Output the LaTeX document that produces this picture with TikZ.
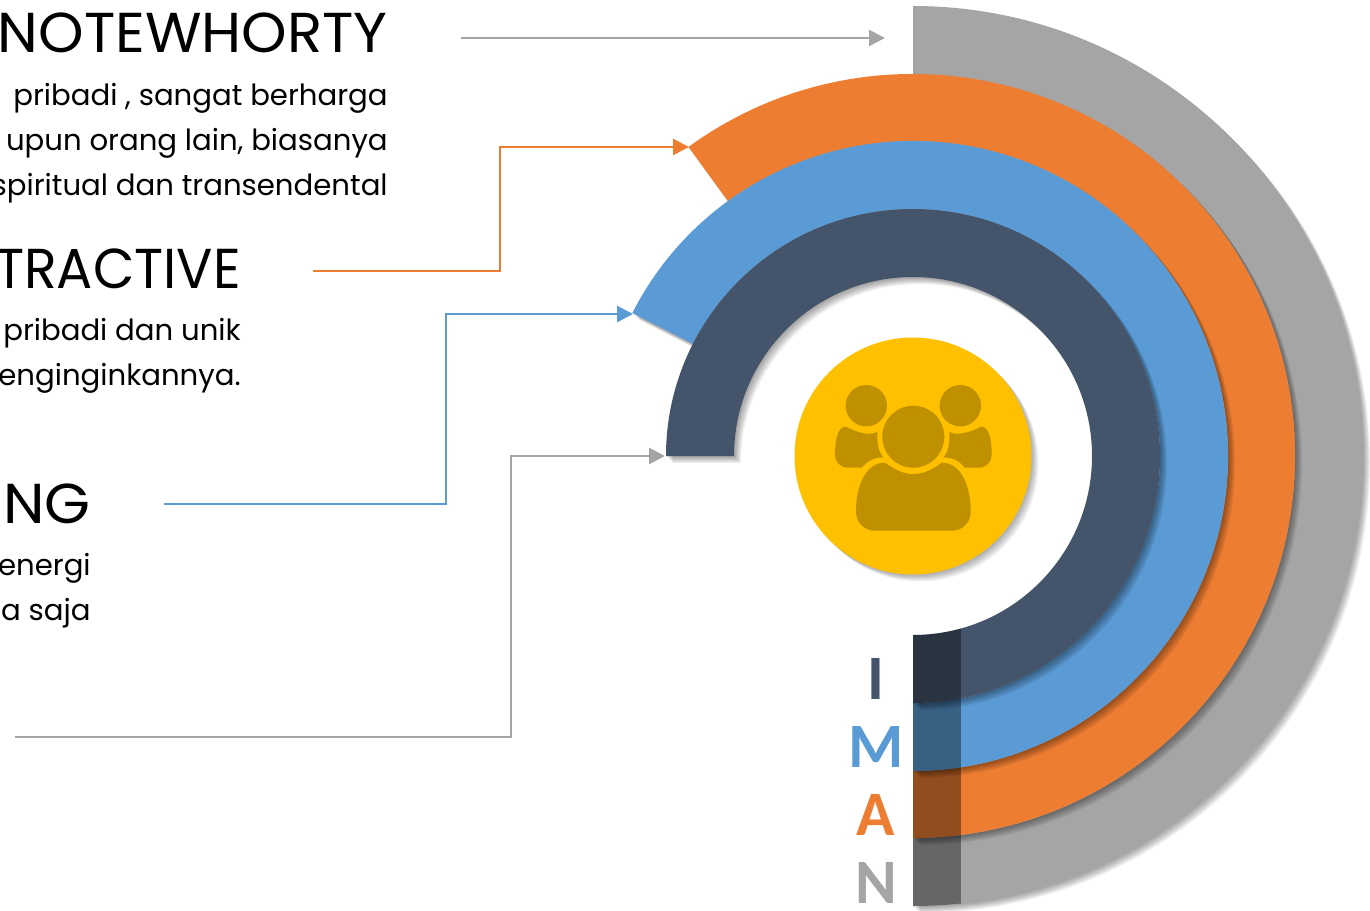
\documentclass[tikz,border=0pt]{standalone}
\usepackage{fontspec}
\usetikzlibrary{arrows.meta}
\newfontfamily\gothicfont{Poppins}
\setsansfont{Carlito}
\definecolor{ringgray}{HTML}{A5A5A5}
\definecolor{ringorange}{HTML}{ED7D31}
\definecolor{ringblue}{HTML}{5B9BD5}
\definecolor{ringdark}{HTML}{44546A}
\definecolor{hubyellow}{HTML}{FFC000}
\definecolor{hubicon}{HTML}{BF9000}
% soft shadow and ring: colour, outer radius, inner radius, start angle, end angle
\newcommand{\drawring}[5]{%
  \foreach \off in {0.02,0.04,...,0.14} {%
    \fill [black,opacity=0.06,shift={(\off,-\off)}] (#4:#2) arc [start angle=#4,end angle=#5,radius=#2] -- (#5:#3) arc [start angle=#5,end angle=#4,radius=#3] -- cycle;%
  }%
  \fill [#1] (#4:#2) arc [start angle=#4,end angle=#5,radius=#2] -- (#5:#3) arc [start angle=#5,end angle=#4,radius=#3] -- cycle;%
}
\tikzset{
  heading/.style={anchor=base east,inner sep=0pt,transform shape,font=\gothicfont\fontsize{32}{32}\selectfont},
  bodytext/.style={anchor=north east,inner sep=0pt,align=right,font=\gothicfont\fontsize{16.6}{25.6}\selectfont},
  ringletter/.style={anchor=base,inner sep=0pt,font=\sffamily\bfseries\fontsize{36}{36}\selectfont},
  leader/.style={line width=0.056cm,-{Triangle[length=0.32cm,width=0.32cm]}}
}
\begin{document}
\begin{tikzpicture}
\useasboundingbox (0,0) rectangle (27.4,18.2);

% Marking point hub
\coordinate (hub) at (18.26,9.08);

% Drawing rings
\begin{scope}[shift={(hub)}]
\drawring{ringgray}{9.00}{7.64}{90}{-90}
\drawring{ringorange}{7.64}{6.30}{126}{-90}
\drawring{ringblue}{6.30}{4.94}{153}{-90}
\drawring{ringdark}{4.94}{3.58}{180}{-90}

% Drawing dark strip
\begin{scope}
\clip (-90:9.00) arc [start angle=-90,end angle=0,radius=9.00] -- (0:3.58) arc [start angle=0,end angle=-90,radius=3.58] -- cycle;
\fill [black,opacity=0.38] (0,-9.1) rectangle (0.96,-3);
\end{scope}

% Drawing yellow circle
\foreach \off in {0.02,0.04,...,0.14} {
  \fill [black,opacity=0.05,shift={(\off,-\off)}] (0,0) circle (2.37);
}
\fill [hubyellow] (0,0) circle (2.37);
\end{scope}

% Drawing heads
\fill [hubicon] (18.266,9.466) circle (0.62);
\fill [hubicon] (17.326,10.086) circle (0.414);
\fill [hubicon] (19.206,10.086) circle (0.414);

% Drawing bodies
\begin{scope}[shift={(15.6,11.8)},x=0.006667cm,y=-0.006667cm]
\fill [hubicon] (197,320) .. controls (225,335) and (270,350) .. (292,335) .. controls (290,370) and (295,395) .. (310,412) .. controls (280,412) and (260,425) .. (245,443) -- (205,443) .. controls (180,443) and (165,425) .. (165,405) .. controls (165,370) and (170,320) .. (197,320) -- cycle;
\fill [hubicon] (603,320) .. controls (575,335) and (530,350) .. (508,335) .. controls (510,370) and (505,395) .. (490,412) .. controls (520,412) and (540,425) .. (555,443) -- (595,443) .. controls (620,443) and (635,425) .. (635,405) .. controls (635,370) and (630,320) .. (603,320) -- cycle;
\fill [hubicon] (315,428) .. controls (345,450) and (370,462) .. (400,462) .. controls (430,462) and (455,450) .. (485,428) .. controls (545,428) and (572,500) .. (572,575) .. controls (572,610) and (545,632) .. (515,632) -- (285,632) .. controls (255,632) and (228,610) .. (228,575) .. controls (228,500) and (255,428) .. (315,428) -- cycle;
\end{scope}

% Marking letters
\node (letterI) [ringletter,text=ringdark] at (17.52,4.22) {I};
\node (letterM) [ringletter,text=ringblue] at (17.53,2.86) {M};
\node (letterA) [ringletter,text=ringorange] at (17.52,1.50) {A};
\node (letterN) [ringletter,text=ringgray] at (17.52,0.14) {N};

% Marking headings
\node (noteworthy) [heading,xscale=1.03] at (7.76,17.14) {NOTEWHORTY};
\node (attractive) [heading,xscale=0.955] at (4.82,12.44) {TRACTIVE};
\node (inspiring) [heading,xscale=1.05] at (1.82,7.74) {NG};

% Marking body texts
\node (noteworthytext) [bodytext] at (7.76,16.54) {pribadi , sangat berharga\\upun orang lain, biasanya\\spiritual dan transendental};
\node (attractivetext) [bodytext] at (4.82,11.84) {pribadi dan unik\\enginginkannya.};
\node (inspiringtext) [bodytext] at (1.82,7.14) {energi\\a saja};

% Marking leader points
\coordinate (grayA) at (9.22,17.44);
\coordinate (grayB) at (17.70,17.44);
\coordinate (orangeA) at (6.26,12.78);
\coordinate (orangeB) at (10.00,15.26);
\coordinate (orangeC) at (13.78,15.26);
\coordinate (blueA) at (3.28,8.12);
\coordinate (blueB) at (8.92,11.92);
\coordinate (blueC) at (12.66,11.92);
\coordinate (silverA) at (0.30,3.46);
\coordinate (silverB) at (10.22,9.08);
\coordinate (silverC) at (13.30,9.08);

% Drawing leaders
\draw [leader,ringgray] (grayA) -- (grayB);
\draw [leader,ringorange] (orangeA) -| (orangeB) -- (orangeC);
\draw [leader,ringblue] (blueA) -| (blueB) -- (blueC);
\draw [leader,ringgray] (silverA) -| (silverB) -- (silverC);
\end{tikzpicture}
\end{document}
